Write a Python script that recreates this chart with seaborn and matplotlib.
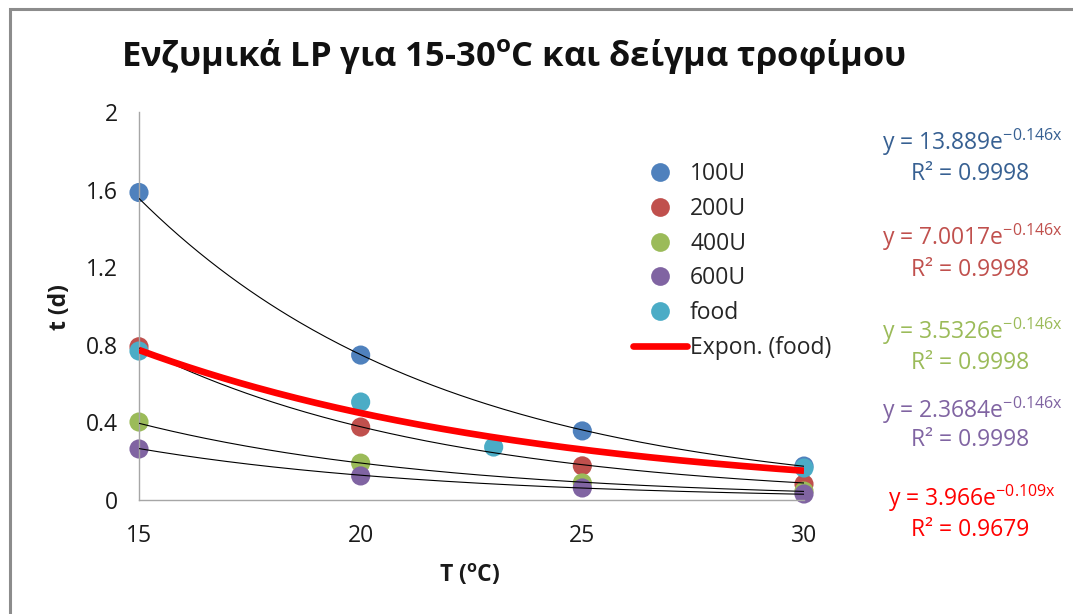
import numpy as np
import pandas as pd
import matplotlib
matplotlib.use("Agg")
import matplotlib.pyplot as plt
from matplotlib.lines import Line2D
from matplotlib.patches import Rectangle
import seaborn as sns

# Measured lag times t (days) at each temperature T (°C)
temps = [15, 20, 25, 30]
t_100U = [1.585, 0.747, 0.356, 0.175]
t_200U = [0.790, 0.376, 0.176, 0.082]
t_400U = [0.402, 0.190, 0.088, 0.046]
t_600U = [0.263, 0.124, 0.062, 0.031]
temps_food = [15, 20, 23, 30]
t_food = [0.768, 0.505, 0.273, 0.165]

series_names = ["100U", "200U", "400U", "600U", "food"]
series_colors = ["#4F81BD", "#C0504D", "#9BBB59", "#8064A2", "#4BACC6"]

# Exponential trendline coefficients: y = a * exp(b * x)
fit_a = [13.889, 7.0017, 3.5326, 2.3684, 3.966]
fit_b = [-0.146, -0.146, -0.146, -0.146, -0.109]
label_colors = ["#376092", "#C0504D", "#9BBB59", "#8064A2", "#FF0000"]
label_coef_text = ["13.889", "7.0017", "3.5326", "2.3684", "3.966"]
label_exp_text = ["-0.146x", "-0.146x", "-0.146x", "-0.146x", "-0.109x"]
label_r2_text = ["0.9998", "0.9998", "0.9998", "0.9998", "0.9679"]

title_text = "Ενζυμικά LP για 15-30$^{o}$C και δείγμα τροφίμου"
x_label = "T ($^{o}$C)"
y_label = "t (d)"
y_ticks = [0, 0.4, 0.8, 1.2, 1.6, 2]
y_tick_labels = ["0", "0.4", "0.8", "1.2", "1.6", "2"]
x_ticks = [15, 20, 25, 30]

sns.set_theme(style="white")
plt.rcParams["font.family"] = ["Open Sans", "DejaVu Sans"]
plt.rcParams["mathtext.fontset"] = "custom"
plt.rcParams["mathtext.rm"] = "Open Sans"
plt.rcParams["mathtext.default"] = "regular"

points = pd.DataFrame({
    "T": temps * 4 + temps_food,
    "t": t_100U + t_200U + t_400U + t_600U + t_food,
    "series": sum([[n] * 4 for n in series_names], []),
})

fig = plt.figure(figsize=(10.73, 6.14), dpi=100)
ax = fig.add_axes([139 / 1073, 1 - 500 / 614, (804 - 139) / 1073, (500 - 112) / 614])

# outer chart frame
fig.patches.append(Rectangle((10 / 1073, -0.05), 1.1, 1 - 9 / 614 + 0.05,
                             transform=fig.transFigure, fill=False,
                             edgecolor="#8C8C8C", linewidth=2.2, zorder=0))

sns.scatterplot(data=points, x="T", y="t", hue="series", hue_order=series_names,
                palette=series_colors, s=190, edgecolor="none", linewidth=0,
                ax=ax, legend=False, clip_on=False, zorder=2)

# trendlines
xs = np.linspace(15, 30, 200)
curves = []
for name, a, b in zip(series_names, fit_a, fit_b):
    curves.append(pd.DataFrame({"T": xs, "t": a * np.exp(b * xs), "series": name}))
curves = pd.concat(curves)
sns.lineplot(data=curves[curves.series != "food"], x="T", y="t", units="series",
             estimator=None, color="black", linewidth=0.8, ax=ax, zorder=3,
             legend=False)
sns.lineplot(data=curves[curves.series == "food"], x="T", y="t",
             color="#FF0000", linewidth=4.8, ax=ax, zorder=4, legend=False,
             solid_capstyle="butt")

ax.set_xlim(15, 30)
ax.set_ylim(0, 2)
ax.set_xticks(x_ticks)
ax.set_xticklabels([str(v) for v in x_ticks])
ax.set_yticks(y_ticks)
ax.set_yticklabels(y_tick_labels)
ax.tick_params(axis="both", length=0, labelsize=16.5, colors="#1A1A1A")
ax.tick_params(axis="y", pad=15)
ax.tick_params(axis="x", pad=17)
for side in ["top", "right"]:
    ax.spines[side].set_visible(False)
for side in ["left", "bottom"]:
    ax.spines[side].set_color("#A6A6A6")
    ax.spines[side].set_linewidth(1.0)
ax.set_xlabel("")
ax.set_ylabel("")

fig.text(470 / 1073, 1 - 575 / 614, x_label, ha="center", va="center",
         fontsize=16.5, fontweight="bold", color="#1A1A1A")
fig.text(60 / 1073, 1 - 307 / 614, y_label, ha="center", va="center",
         rotation=90, fontsize=16.5, fontweight="bold", color="#1A1A1A")
fig.text(513 / 1073, 1 - 56 / 614, title_text, ha="center", va="center",
         fontsize=24.8, fontweight="bold", color="#111111")

handles = [Line2D([], [], linestyle="none", marker="o", markersize=13.5,
                  markerfacecolor=c, markeredgecolor="none") for c in series_colors]
handles.append(Line2D([], [], color="#FF0000", linewidth=4.8))
labels = series_names + ["Expon. (food)"]
ax.legend(handles, labels, loc="upper left",
          bbox_to_anchor=(633 / 1073, 1 - 162 / 614), bbox_transform=fig.transFigure,
          frameon=False, fontsize=16.5, handlelength=2.36, handletextpad=0.13,
          labelspacing=0.47, borderpad=0, borderaxespad=0)

eq_y = [(142, 174), (237, 270), (331, 363), (410, 440), (498, 530)]
for i in range(5):
    y1, y2 = eq_y[i]
    fig.text(972 / 1073, 1 - y1 / 614,
             "y = " + label_coef_text[i] + "e$^{" + label_exp_text[i] + "}$",
             ha="center", va="center", fontsize=16.5, color=label_colors[i])
    fig.text(970 / 1073, 1 - y2 / 614, "R² = " + label_r2_text[i],
             ha="center", va="center", fontsize=16.5, color=label_colors[i])

fig.savefig("out.png", dpi=100)
